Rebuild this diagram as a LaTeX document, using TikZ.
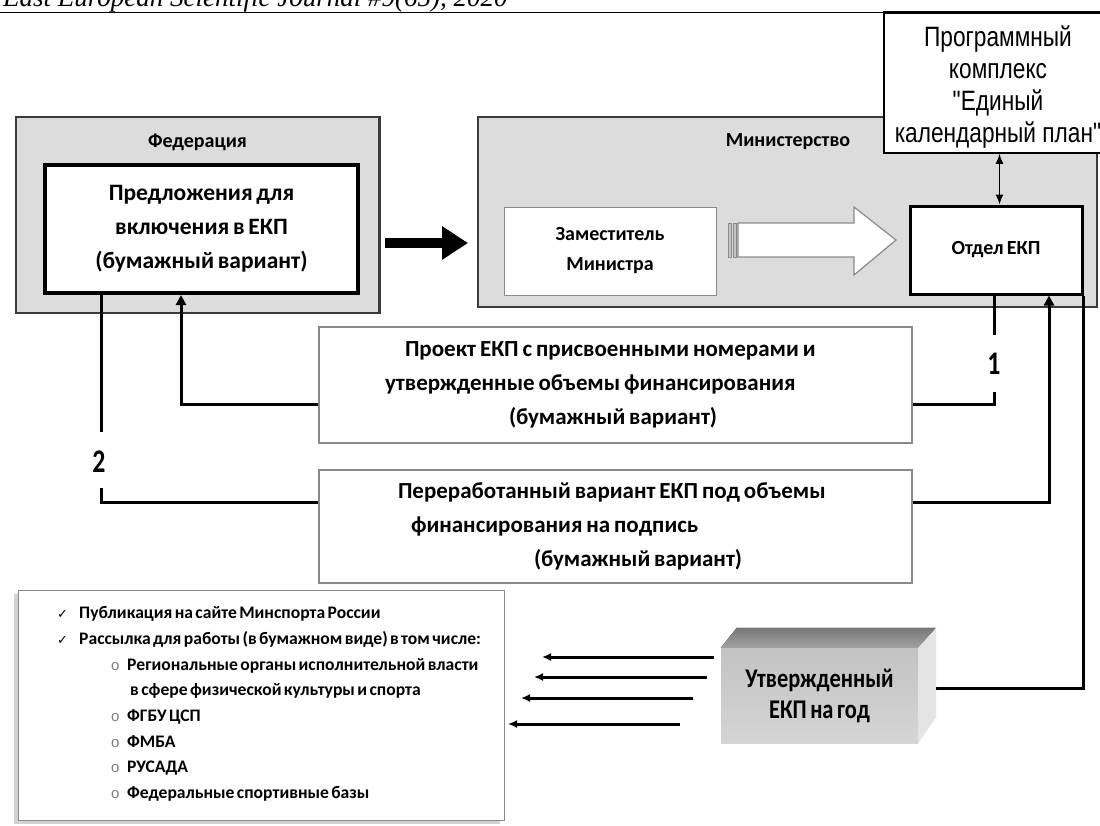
\documentclass[tikz,border=0pt]{standalone}
\usepackage{fontspec}
\setmainfont{Carlito}[WordSpace=0.7]
\newfontfamily\progfont{Liberation Sans}[FakeStretch=0.81]
\newfontfamily\narrowfont{Carlito}[FakeStretch=0.78]
\newfontfamily\yearfont{Carlito}[FakeStretch=0.83,WordSpace=0.7]
\newfontfamily\listfont{Carlito}[WordSpace=0.6]
\newfontfamily\headfont{Liberation Serif}
\newfontfamily\symfont{DejaVu Sans}
\newfontfamily\bulfont{Liberation Sans}
\usetikzlibrary{arrows.meta,shadows}
\definecolor{boxgray}{HTML}{DCDCDC}
\definecolor{edgegray}{HTML}{3A3A3A}
\definecolor{thingray}{HTML}{8A8A8A}
\definecolor{topgray}{HTML}{8C8C8C}
\definecolor{frontgray}{HTML}{CACACA}
\definecolor{sidegray}{HTML}{E4E4E4}
\begin{document}
\begin{tikzpicture}[x=1pt,y=-1pt,
  outerbox/.style={draw=edgegray,line width=2.5pt,fill=boxgray,inner sep=0pt},
  innerbox/.style={draw=black,line width=4pt,fill=white},
  thinbox/.style={draw=thingray,line width=1pt,fill=white},
  otdbox/.style={draw=black,line width=3pt,fill=white},
  textbox/.style={draw=thingray,line width=1.4pt,fill=white},
  lbl/.style={font=\bfseries\fontsize{20}{24}\selectfont},
  numlbl/.style={font=\narrowfont\bfseries\fontsize{33}{36}\selectfont,inner sep=0pt},
  conn/.style={line width=3pt,draw=black},
  uptip/.style={-{Triangle[length=10pt,width=10pt]}},
  lefttip/.style={-{Latex[length=9pt,width=8pt]}},
]
\newcommand\chk{\makebox[22pt][l]{\symfont\mdseries\fontsize{13}{13}\selectfont ✓}}
\newcommand\bullo{\makebox[16pt][l]{\bulfont\mdseries\fontsize{15}{15}\selectfont\color{gray}o}}
\newcommand\tightsp{\spaceskip=0.17em plus 0.05em\relax}
\useasboundingbox (0,0) rectangle (1100,825);
\clip (0,0) rectangle (1100,825);
\fill[white] (0,0) rectangle (1100,825);

% header
\node[anchor=base west,inner sep=0pt,font=\headfont\itshape\fontsize{27}{30}\selectfont] (hdr) at (3,6) {East European Scientific Journal \#9(65), 2020};
\draw[line width=1.3pt] (0,12.5) -- (1100,12.5);

% Federation
\node[outerbox,minimum width=363.5pt,minimum height=196pt] (fed) at (197.75,215) {};
\node[lbl] (fedlbl) at (197.5,142) {Федерация};
\node[innerbox,minimum width=313pt,minimum height=128pt,align=center,
      font=\bfseries\fontsize{23.5}{34}\selectfont] (prop) at (201.5,229)
      {Предложения для\\включения в ЕКП\\(бумажный вариант)};

% Ministry
\node[outerbox,minimum width=619pt,minimum height=190pt] (min) at (787.5,212) {};
\node[lbl] (minlbl) at (788,142) {Министерство};
\node[thinbox,minimum width=212pt,minimum height=88pt,align=center,
      font=\bfseries\fontsize{20}{30}\selectfont] (dep) at (610,251) {Заместитель\\Министра};
\node[otdbox,minimum width=172pt,minimum height=88pt,
      font=\bfseries\fontsize{20}{24}\selectfont] (otd) at (996,250) {Отдел ЕКП};

% hollow striped arrow
\draw[thingray,line width=1.2pt,fill=white]
  (738,223) -- (854,223) -- (854,207) -- (896,240) -- (854,275) -- (854,257) -- (738,257) -- cycle;
\draw[thingray,line width=1pt,fill=gray!45] (728,223) rectangle (731,257);
\draw[thingray,line width=1pt,fill=gray!45] (733.5,223) rectangle (736,257);

% thick arrow federation -> ministry
\coordinate (ba) at (385,243);
\coordinate (bb) at (468,243);
\draw[line width=10pt,-{Triangle[length=26pt,width=32pt]}] (ba) -- (bb);

% program box
\node[draw=black,line width=1.5pt,fill=white,minimum width=231pt,minimum height=140pt,
      inner sep=0pt] (prog) at (999.5,83) {};
\node[align=center,inner sep=0pt,font=\progfont\fontsize{28}{32}\selectfont] (progtxt) at (998,87)
      {Программный\\комплекс\\"Единый\\календарный план"};
\draw[line width=3pt] (prog.north west) -- (prog.north east);
\draw[line width=1.5pt,{Latex[length=10pt,width=8pt]}-{Latex[length=10pt,width=8pt]}]
  (prog.south) -- (prog.south |- otd.north);

% text boxes
\node[textbox,minimum width=593pt,minimum height=116pt,text width=593pt,inner xsep=0pt,align=left,
      font=\bfseries\fontsize{23}{34}\selectfont] (proj) at (615.5,385)
      {\tightsp\hspace*{86pt}Проект ЕКП с присвоенными номерами и\\
       \hspace*{66pt}утвержденные объемы финансирования\\
       \hspace*{190pt}(бумажный вариант)};
\node[textbox,minimum width=593pt,minimum height=113pt,text width=593pt,inner xsep=0pt,align=left,
      font=\bfseries\fontsize{23}{34}\selectfont] (rev) at (615.5,526.5)
      {\tightsp\hspace*{79pt}Переработанный вариант ЕКП под объемы\\
       \hspace*{92pt}финансирования на подпись\\
       \hspace*{215pt}(бумажный вариант)};

% list box
\node[draw=thingray,line width=1pt,fill=white,minimum width=486pt,minimum height=230pt,
      drop shadow={shadow xshift=-4pt,shadow yshift=-4pt,opacity=0.35,fill=gray}] (lst) at (261,705) {};
\node[anchor=west,align=left,inner sep=0pt,font=\listfont\bfseries\fontsize{17.6}{25.7}\selectfont] (lsttxt) at (57,704)
 {\chk Публикация на сайте Минспорта России\\
  \chk Рассылка для работы (в бумажном виде) в том числе:\\
  \hspace*{54pt}\bullo Региональные органы исполнительной власти\\
  \hspace*{73pt}в сфере физической культуры и спорта\\
  \hspace*{54pt}\bullo ФГБУ ЦСП\\
  \hspace*{54pt}\bullo ФМБА\\
  \hspace*{54pt}\bullo РУСАДА\\
  \hspace*{54pt}\bullo Федеральные спортивные базы};

% 3D box
\node[minimum width=197pt,minimum height=95pt,inner sep=0pt,
      top color=frontgray!90!gray,bottom color=frontgray!80!white,align=center,
      font=\yearfont\bfseries\fontsize{27}{31}\selectfont] (year) at (819.5,695.5) {Утвержденный\\ЕКП на год};
\fill[top color=topgray!85!black,bottom color=topgray!80!white]
  (year.north west) -- ++(16,-20) -- ++(199,0) -- (year.north east) -- cycle;
\fill[sidegray] (year.north east) -- ++(18,-20) -- ++(0,89) -- (year.south east) -- cycle;

% connectors
\coordinate (y404) at (0,404);
\coordinate (y502) at (0,502);
\coordinate (x1049) at (1049,0);
\coordinate (p1a) at (994,335);
\coordinate (p1b) at (994,392);
\coordinate (p2a) at (101,432);
\coordinate (p2b) at (101,488);
\coordinate (yrc) at (936,688);

\draw[conn] (otd.south -| p1a) -- (p1a);
\node[numlbl] (n1) at (994,364) {1};
\draw[conn] (p1b) |- (proj.east |- y404);
\draw[conn,uptip] (proj.west |- y404) -| ([xshift=-20.5pt]prop.south);

\draw[conn] ([xshift=-100.5pt]prop.south) -- (p2a);
\node[numlbl] (n2) at (99,462) {2};
\draw[conn] (p2b) |- (rev.west |- y502);
\draw[conn,uptip] (rev.east |- y502) -| (otd.south -| x1049);

\draw[conn] (yrc) -| (otd.south east);

% arrows to list
\coordinate (a1s) at (714,657); \coordinate (a1e) at (542,657);
\coordinate (a2s) at (707,677); \coordinate (a2e) at (534,677);
\coordinate (a3s) at (693,698); \coordinate (a3e) at (521,698);
\coordinate (a4s) at (680,724); \coordinate (a4e) at (508,724);
\draw[conn,lefttip] (a1s) -- (a1e);
\draw[conn,lefttip] (a2s) -- (a2e);
\draw[conn,lefttip] (a3s) -- (a3e);
\draw[conn,lefttip] (a4s) -- (a4e);
\end{tikzpicture}
\end{document}
